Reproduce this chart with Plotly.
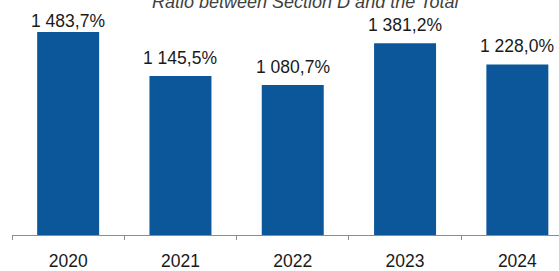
import plotly.graph_objects as go

years = ["2020", "2021", "2022", "2023", "2024"]
ratios = [1483.7, 1145.5, 1080.7, 1381.2, 1228.0]
labels = ["1 483,7%", "1 145,5%", "1 080,7%", "1 381,2%", "1 228,0%"]
title = "Ratio between Section D and the Total"

FONT = "Liberation Sans, Arial, sans-serif"
Y_MAX = 1462  # top of the value axis (the tallest bar is clipped there)

fig = go.Figure(
    go.Bar(
        x=years,
        y=ratios,
        marker=dict(color="#0B579A", line=dict(width=0)),
        width=0.552,
        cliponaxis=True,
        hoverinfo="skip",
    )
)

for i, (v, lab) in enumerate(zip(ratios, labels)):
    clipped = v > Y_MAX
    fig.add_annotation(
        x=i, y=min(v, Y_MAX),
        text=lab,
        xanchor="center", yanchor="bottom",
        yshift=-1 if clipped else 6,
        showarrow=False,
        font=dict(family=FONT, size=17.5, color="#1a1a1a"),
    )

fig.add_annotation(
    text="<i>" + title + "</i>",
    xref="paper", yref="paper",
    x=(306 - 12) / 547, y=1,
    xanchor="center", yanchor="bottom",
    yshift=18,
    showarrow=False,
    font=dict(family=FONT, size=18, color="#404040"),
)

fig.update_layout(
    width=559, height=271,
    margin=dict(l=12, r=0, t=32, b=27, pad=0),
    paper_bgcolor="white",
    plot_bgcolor="white",
    showlegend=False,
)
fig.update_xaxes(
    type="category",
    range=[-0.5, -0.5 + 547 / 112.3],
    showline=True, linecolor="#8c8c8c", linewidth=1.3,
    ticks="outside", tickson="boundaries", ticklen=4, tickcolor="#8c8c8c", tickwidth=1.3,
    tickfont=dict(family=FONT, size=17.5, color="#1a1a1a"),
    ticklabelstandoff=10,
    showgrid=False, zeroline=False,
)
fig.update_yaxes(
    range=[0, Y_MAX],
    visible=False,
    showgrid=False, zeroline=False,
)

fig.write_html(
    "out.html",
    config={"displayModeBar": False},
    post_script="document.body.style.margin='0';document.body.style.overflow='hidden';",
)
